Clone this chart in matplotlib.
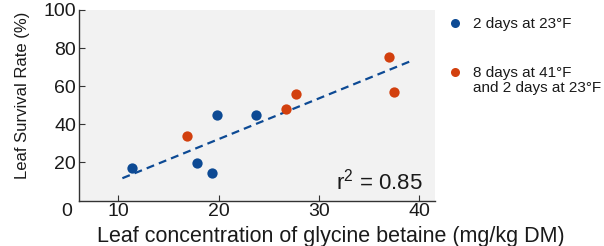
import matplotlib
matplotlib.use("Agg")
import matplotlib.pyplot as plt
from matplotlib.lines import Line2D

plt.rcParams['font.family'] = ['Liberation Sans', 'DejaVu Sans']
plt.rcParams['mathtext.fontset'] = 'custom'
plt.rcParams['mathtext.rm'] = 'Liberation Sans'
plt.rcParams['mathtext.it'] = 'Liberation Sans'

# values
blue_x = [11.4, 17.8, 19.3, 19.8, 23.7]
blue_y = [17.3, 19.9, 14.5, 45.0, 45.0]
red_x = [16.85, 26.7, 27.7, 37.0, 37.5]
red_y = [34.0, 47.8, 56.0, 75.5, 57.0]
fit_x = [10.4, 39.1]
fit_y = [11.7, 73.0]
xticks = [10, 20, 30, 40]
yticks = [20, 40, 60, 80, 100]
labels = ["2 days at 23\u00b0F", "8 days at 41\u00b0F\nand 2 days at 23\u00b0F"]

blue = "#0d4a94"
red = "#d2400e"

fig = plt.figure(figsize=(6.04, 2.46), dpi=100)
ax = fig.add_axes([79 / 604, 1 - 200.5 / 246, 356 / 604, 190.5 / 246])
ax.set_facecolor("#f2f2f2")

ax.plot(fit_x, fit_y, color=blue, lw=1.6, dashes=(3.6, 2.3), zorder=2)
ax.scatter(blue_x, blue_y, s=55, color=blue, zorder=3, linewidths=0)
ax.scatter(red_x, red_y, s=55, color=red, zorder=3, linewidths=0)

ax.set_xlim(6.07, 41.6)
ax.set_ylim(0, 100)
ax.set_xticks(xticks)
ax.set_yticks(yticks)
ax.tick_params(direction="in", length=4, width=0.8, colors="#333333",
               labelcolor="#1a1a1a", labelsize=14, pad=2)
for s in ["top", "right"]:
    ax.spines[s].set_visible(False)
for s in ["left", "bottom"]:
    ax.spines[s].set_color("#333333")
    ax.spines[s].set_linewidth(1.0)

# origin label sits below the corner
fig.text(66.5 / 604, 1 - 211.5 / 246, "0", fontsize=14, color="#1a1a1a",
         ha="center", va="center")

ax.text(0.965, 0.06, "r$^{2}$ = 0.85", transform=ax.transAxes, fontsize=16,
        ha="right", va="baseline", color="#1a1a1a")

fig.text(331 / 604, 1 - 242 / 246, "Leaf concentration of glycine betaine (mg/kg DM)",
         fontsize=15.5, ha="center", va="baseline", color="#1a1a1a")
fig.text(22.5 / 604, 1 - 95 / 246, "Leaf Survival Rate (%)", fontsize=12,
         rotation=90, ha="center", va="center", color="#1a1a1a")

# legend drawn by hand to the right of the axes
for (yy, col, lab) in [(23, blue, labels[0]), (72, red, labels[1])]:
    fig.add_artist(Line2D([455 / 604], [1 - yy / 246], marker="o", markersize=6.5,
                          color=col, markeredgewidth=0, transform=fig.transFigure))
    fig.text(473 / 604, 1 - (yy - 6.5) / 246, lab, fontsize=11, ha="left", va="top",
             color="#1a1a1a", linespacing=1.1)

fig.savefig("out.png", dpi=100)
